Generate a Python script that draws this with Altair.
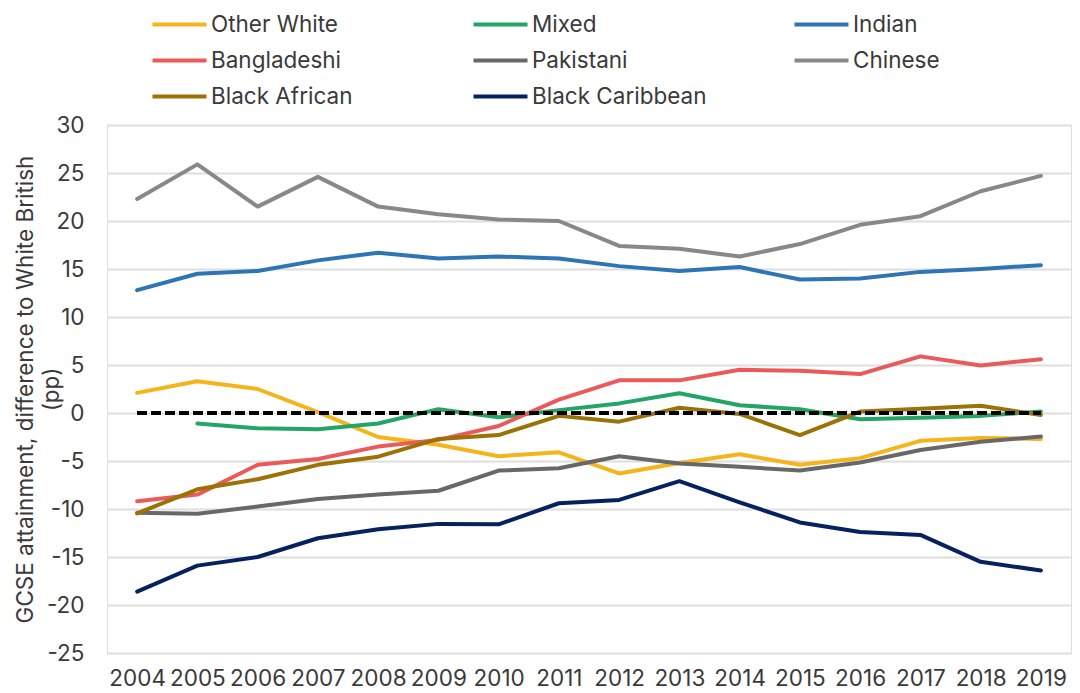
import altair as alt
import pandas as pd

years = list(range(2004, 2020))

series_names = ["Other White", "Mixed", "Indian", "Bangladeshi", "Pakistani",
                "Chinese", "Black African", "Black Caribbean"]

other_white = [2.1, 3.3, 2.5, 0.1, -2.5, -3.3, -4.5, -4.1, -6.3, -5.2, -4.3, -5.4, -4.7, -2.9, -2.6, -2.7]
mixed = [None, -1.1, -1.6, -1.7, -1.1, 0.4, -0.45, 0.3, 1.0, 2.05, 0.8, 0.4, -0.65, -0.5, -0.3, 0.15]
indian = [12.8, 14.5, 14.8, 15.9, 16.7, 16.1, 16.3, 16.1, 15.3, 14.8, 15.2, 13.9, 14.0, 14.7, 15.0, 15.4]
bangladeshi = [-9.2, -8.5, -5.4, -4.8, -3.5, -2.8, -1.35, 1.4, 3.4, 3.4, 4.5, 4.4, 4.05, 5.9, 4.95, 5.6]
pakistani = [-10.4, -10.5, -9.75, -8.95, -8.5, -8.1, -6.0, -5.75, -4.5, -5.25, -5.6, -6.0, -5.15, -3.85, -3.0, -2.45]
chinese = [22.3, 25.9, 21.5, 24.6, 21.5, 20.7, 20.15, 20.0, 17.4, 17.1, 16.3, 17.6, 19.6, 20.5, 23.1, 24.7]
black_african = [-10.45, -7.95, -6.9, -5.4, -4.55, -2.7, -2.3, -0.3, -0.9, 0.55, -0.1, -2.3, 0.15, 0.45, 0.75, -0.2]
black_caribbean = [-18.6, -15.9, -15.0, -13.05, -12.1, -11.55, -11.6, -9.4, -9.05, -7.1, -9.3, -11.4, -12.4, -12.7, -15.5, -16.4]

series_values = [other_white, mixed, indian, bangladeshi, pakistani,
                 chinese, black_african, black_caribbean]

colors = ["#F4B41A", "#22A565", "#2E75B6", "#EB5A5A", "#686868",
          "#888888", "#9A7206", "#06225E"]

y_ticks = [-25, -20, -15, -10, -5, 0, 5, 10, 15, 20, 25, 30]

rows = []
for name, vals in zip(series_names, series_values):
    for yr, v in zip(years, vals):
        if v is not None:
            rows.append({"year": str(yr), "group": name, "value": v})
df = pd.DataFrame(rows)

FONT = "Inter"
TXT = "#3a3a3a"
FS = 22.5

lines = alt.Chart(df).mark_line(strokeWidth=4, strokeCap="round", strokeJoin="round").encode(
    x=alt.X("year:O", title=None,
            scale=alt.Scale(type="point", padding=0.5),
            axis=alt.Axis(labelAngle=0, ticks=False, domain=False, grid=False,
                          labelPadding=14, labelFontSize=FS, labelColor=TXT, labelFont=FONT)),
    y=alt.Y("value:Q",
            title=["GCSE attainment, difference to White British", "(pp)"],
            scale=alt.Scale(domain=[-25, 30], nice=False, zero=False),
            axis=alt.Axis(values=y_ticks, ticks=False, domain=False, grid=True,
                          gridColor="#dedede", gridWidth=2,
                          labelExpr="datum.value",
                          labelPadding=23, labelFontSize=FS, labelColor=TXT, labelFont=FONT,
                          titleFontSize=FS, titleColor=TXT, titleFont=FONT,
                          titleFontWeight="normal", titlePadding=-17, titleLineHeight=26)),
    color=alt.Color("group:N",
                    scale=alt.Scale(domain=series_names, range=colors),
                    sort=series_names,
                    legend=alt.Legend(title=None, orient="none", legendX=57, legendY=-116,
                                      columns=3, direction="horizontal",
                                      symbolType="M-2,0H2", symbolSize=729,
                                      symbolStrokeWidth=4, labelFontSize=FS,
                                      labelFont=FONT, labelColor=TXT, labelOffset=16,
                                      gridAlign="all", columnPadding=79, rowPadding=9,
                                      labelLimit=400)),
    detail="group:N",
)

zero = alt.Chart(df).mark_rule(color="black", strokeWidth=4, strokeDash=[9, 5]).encode(
    x=alt.datum(str(years[0])),
    x2=alt.datum(str(years[-1])),
    y=alt.datum(0),
)

chart = alt.layer(lines, zero).properties(
    width=964, height=528,
    autosize=alt.AutoSizeParams(type="none"),
    padding={"left": 99, "top": 117, "right": 1, "bottom": 40},
).configure_view(stroke=None).configure(font=FONT)

chart.save("out.html", embed_options={"renderer": "svg", "actions": False})
